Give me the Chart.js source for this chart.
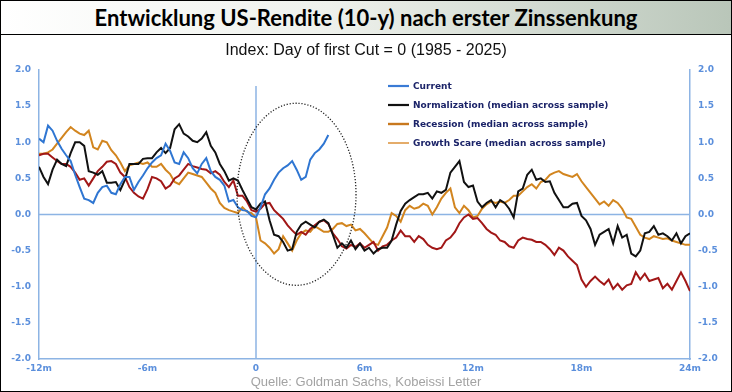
<!DOCTYPE html>
<html>
<head>
<meta charset="utf-8">
<script src="https://cdn.jsdelivr.net/npm/chart.js@4.4.1/dist/chart.umd.min.js"></script>
<style>
  html, body { margin: 0; padding: 0; background: #fff; }
  #frame {
    position: relative; width: 732px; height: 392px;
    box-sizing: border-box; border: 1px solid #000; overflow: hidden;
  }
  #banner {
    position: absolute; left: 0; top: 0; width: 730px; height: 33px;
    border-bottom: 1px solid #000;
    background: linear-gradient(to right, #ffffff 0%, #eef1ec 45%, #b9c6b9 100%);
    font-family: Lato, sans-serif; font-weight: bold; font-size: 22px;
    line-height: 33px; text-align: center; color: #000;
  }
  #sub {
    position: absolute; left: 0; width: 730px; top: 40px;
    font-family: "Liberation Sans Narrow", "Arial Narrow", "Liberation Sans", sans-serif;
    font-size: 16px; line-height: 18px; text-align: center; color: #111;
  }
  #src {
    position: absolute; left: 0; width: 730px; top: 373px;
    font-family: "Liberation Sans", Arial, sans-serif;
    font-size: 13px; line-height: 16px; text-align: center; color: #a3a3a3;
  }
  #wrap { position: absolute; left: 0; top: 34px; width: 730px; height: 356px; }
</style>
</head>
<body>
<div id="frame">
  <div id="banner">Entwicklung US-Rendite (10-y) nach erster Zinssenkung</div>
  <div id="wrap"><canvas id="chart"></canvas></div>
  <div id="sub">Index: Day of first Cut = 0 (1985 - 2025)</div>
  <div id="src">Quelle: Goldman Sachs, Kobeissi Letter</div>
</div>
<script>
// months relative to first cut, one value every quarter month starting at -12m
const startMonth = -12;
const stepMonth = 0.25;
const xTicks = [-12, -6, 0, 6, 12, 18, 24];
const yTicks = [2.0, 1.5, 1.0, 0.5, 0.0, -0.5, -1.0, -1.5, -2.0];

// rows = 3 months each
const current = [
  1.05, 1.00, 1.23, 1.16, 1.02, 0.91, 0.82, 0.74, 0.55, 0.38, 0.22, 0.20, 0.16,
  0.30, 0.38, 0.40, 0.30, 0.28, 0.42, 0.52, 0.52, 0.34, 0.45, 0.54, 0.64,
  0.72, 0.78, 0.82, 0.98, 0.88, 0.72, 0.70, 0.86, 0.78, 0.64, 0.57, 0.70,
  0.78, 0.60, 0.52, 0.48, 0.40, 0.18, 0.20, 0.10, 0.06, 0.05, -0.02, -0.04,
  0.10, 0.28, 0.36, 0.48, 0.58, 0.64, 0.68, 0.74, 0.62, 0.48, 0.52, 0.76,
  0.85, 0.90, 0.98, 1.10
];

const normalization = [
  0.66, 0.52, 0.42, 0.62, 0.76, 0.70, 0.67, 0.85, 1.00, 1.00, 0.95, 0.60, 0.58,
  0.55, 0.60, 0.44, 0.44, 0.45, 0.34, 0.48, 0.70, 0.70, 0.70, 0.77, 0.78,
  0.78, 0.86, 0.92, 0.85, 0.92, 1.18, 1.25, 1.12, 1.08, 1.02, 1.00, 1.05,
  1.14, 0.95, 0.86, 0.70, 0.60, 0.47, 0.50, 0.47, 0.34, 0.22, 0.10, 0.07,
  0.15, 0.18, -0.08, -0.28, -0.30, -0.38, -0.50, -0.48, -0.24, -0.14, -0.10, -0.14,
  -0.18, -0.10, -0.07, -0.12, -0.28, -0.46, -0.40, -0.46, -0.36, -0.48, -0.40, -0.50,
  -0.46, -0.54, -0.48, -0.46, -0.46, -0.36, -0.14, 0.05, 0.15, 0.20, 0.24, 0.28,
  0.28, 0.30, 0.22, 0.32, 0.30, 0.34, 0.58, 0.66, 0.74, 0.45, 0.38, 0.40,
  0.18, 0.10, 0.16, 0.20, 0.10, 0.20, 0.16, 0.08, -0.04, 0.32, 0.36, 0.55,
  0.62, 0.48, 0.50, 0.45, 0.46, 0.30, 0.20, 0.10, 0.10, 0.15, 0.16, -0.02,
  -0.08, -0.20, -0.42, -0.28, -0.24, -0.20, -0.40, -0.16, -0.32, -0.28, -0.54, -0.58,
  -0.50, -0.26, -0.24, -0.16, -0.28, -0.26, -0.30, -0.36, -0.26, -0.40, -0.30, -0.26
];

const recession = [
  0.82, 0.84, 0.84, 0.79, 0.74, 0.70, 0.70, 0.66, 0.58, 0.48, 0.50, 0.40, 0.50,
  0.60, 0.66, 0.73, 0.74, 0.70, 0.58, 0.52, 0.38, 0.30, 0.25, 0.22, 0.35,
  0.52, 0.50, 0.46, 0.36, 0.40, 0.50, 0.54, 0.62, 0.70, 0.67, 0.65, 0.63,
  0.62, 0.57, 0.60, 0.55, 0.45, 0.38, 0.47, 0.26, 0.26, 0.18, 0.06, 0.04,
  0.08, 0.15, 0.16, 0.06, 0.00, -0.06, -0.15, -0.22, -0.28, -0.24, -0.28, -0.20,
  -0.15, -0.10, -0.08, -0.13, -0.26, -0.34, -0.44, -0.47, -0.42, -0.45, -0.40, -0.46,
  -0.42, -0.38, -0.50, -0.44, -0.42, -0.36, -0.32, -0.22, -0.30, -0.30, -0.38, -0.30,
  -0.34, -0.42, -0.46, -0.48, -0.46, -0.36, -0.32, -0.24, -0.12, -0.04, 0.00, -0.06,
  -0.05, -0.12, -0.20, -0.25, -0.28, -0.36, -0.38, -0.44, -0.46, -0.36, -0.32, -0.34,
  -0.35, -0.38, -0.38, -0.42, -0.48, -0.56, -0.46, -0.50, -0.58, -0.64, -0.70, -0.90,
  -1.00, -0.92, -0.86, -0.92, -0.97, -0.90, -1.03, -0.96, -1.04, -0.98, -0.96, -0.80,
  -0.90, -0.82, -0.92, -0.90, -0.88, -1.02, -0.96, -1.04, -0.92, -0.80, -0.92, -1.06
];

const growthScare = [
  0.84, 0.84, 0.86, 0.90, 0.98, 1.06, 1.14, 1.21, 1.16, 1.12, 1.10, 1.16, 0.93,
  0.90, 1.02, 1.00, 0.89, 0.82, 0.72, 0.60, 0.68, 0.70, 0.72, 0.70, 0.72,
  0.66, 0.66, 0.70, 0.62, 0.56, 0.45, 0.42, 0.50, 0.58, 0.56, 0.54, 0.52,
  0.44, 0.36, 0.30, 0.16, 0.09, 0.06, 0.04, 0.02, 0.10, 0.04, 0.02, -0.04,
  -0.36, -0.40, -0.46, -0.54, -0.48, -0.30, -0.40, -0.50, -0.36, -0.26, -0.22, -0.24,
  -0.16, -0.20, -0.24, -0.24, -0.20, -0.13, -0.12, -0.16, -0.14, -0.22, -0.20, -0.26,
  -0.33, -0.40, -0.42, -0.30, -0.18, 0.02, -0.02, -0.10, 0.06, 0.12, 0.08, 0.10,
  0.15, 0.12, 0.00, 0.10, 0.22, 0.30, 0.36, 0.10, 0.02, 0.12, 0.06, -0.04,
  -0.02, 0.08, 0.14, 0.18, 0.16, 0.18, 0.16, 0.20, 0.26, 0.26, 0.32, 0.38,
  0.42, 0.36, 0.45, 0.48, 0.55, 0.58, 0.60, 0.56, 0.54, 0.52, 0.56, 0.46,
  0.38, 0.30, 0.22, 0.14, 0.18, 0.12, 0.20, 0.16, 0.08, -0.04, -0.06, -0.17,
  -0.28, -0.32, -0.34, -0.30, -0.32, -0.34, -0.33, -0.36, -0.38, -0.40, -0.42, -0.42
];

const axisBlue = '#8db4e4';
const tickBlue = '#5b8fdc';

function toPoints(values) {
  return values.map((v, i) => ({ x: startMonth + i * stepMonth, y: v }));
}

// zero cross lines, the dotted ellipse and the legend box
const overlay = {
  id: 'overlay',
  beforeDatasetsDraw(chart) {
    const { ctx, chartArea, scales } = chart;
    const x0 = scales.x.getPixelForValue(0);
    const y0 = scales.y.getPixelForValue(0);
    ctx.save();
    ctx.strokeStyle = axisBlue;
    ctx.lineWidth = 1.5;
    ctx.beginPath();
    ctx.moveTo(chartArea.left, y0);
    ctx.lineTo(chartArea.right, y0);
    ctx.moveTo(x0, scales.y.getPixelForValue(1.78));
    ctx.lineTo(x0, chartArea.bottom);
    ctx.stroke();
    ctx.restore();
  },
  afterDatasetsDraw(chart) {
    const { ctx, chartArea, scales } = chart;
    // ellipse around the first months after the cut
    const cx = scales.x.getPixelForValue(2.24);
    const cy = scales.y.getPixelForValue(0.28);
    const rx = scales.x.getPixelForValue(2.24 + 3.29) - cx;
    const ry = cy - scales.y.getPixelForValue(0.28 + 1.26);
    ctx.save();
    ctx.strokeStyle = '#222';
    ctx.lineWidth = 1.3;
    ctx.setLineDash([1.2, 1.8]);
    ctx.beginPath();
    ctx.ellipse(cx, cy, rx, ry, 0, 0, Math.PI * 2);
    ctx.stroke();
    ctx.setLineDash([]);

    // legend
    const swatch = ['#3a7bd5', '#111111', '#c8781e', '#d8892a'];
    const swWidth = [2.2, 2.2, 2.4, 1.4];
    let lx = chartArea.left + 349;
    let ly = chartArea.top + 16;
    ctx.font = 'bold 9px "DejaVu Sans"';
    ctx.textBaseline = 'middle';
    chart.data.datasets.forEach((ds, i) => {
      ctx.strokeStyle = swatch[i];
      ctx.lineWidth = swWidth[i];
      ctx.beginPath();
      ctx.moveTo(lx, ly + i * 19);
      ctx.lineTo(lx + 21, ly + i * 19);
      ctx.stroke();
      ctx.fillStyle = '#1b2368';
      ctx.fillText(ds.label, lx + 25, ly + i * 19 + 0.5);
    });
    ctx.restore();
  }
};

const tickFont = { family: '"DejaVu Sans"', size: 9, weight: 'bold' };

const ctx = document.getElementById('chart');
new Chart(ctx, {
  type: 'line',
  data: {
    datasets: [
      { label: 'Current', data: toPoints(current), borderColor: '#2f76d2', borderWidth: 2 },
      { label: 'Normalization (median across sample)', data: toPoints(normalization), borderColor: '#111111', borderWidth: 2 },
      { label: 'Recession (median across sample)', data: toPoints(recession), borderColor: '#a11717', borderWidth: 2 },
      { label: 'Growth Scare (median across sample)', data: toPoints(growthScare), borderColor: '#d2851f', borderWidth: 2 }
    ]
  },
  options: {
    responsive: true,
    maintainAspectRatio: false,
    animation: false,
    layout: { padding: { top: 35, bottom: 0, left: 0, right: 0 } },
    elements: { point: { radius: 0 }, line: { tension: 0 } },
    plugins: {
      legend: { display: false },
      tooltip: { enabled: false }
    },
    scales: {
      x: {
        type: 'linear',
        min: -12, max: 24,
        afterBuildTicks: s => { s.ticks = xTicks.map(v => ({ value: v })); },
        afterFit: s => { s.height = 32; },
        grid: { display: false, drawTicks: false },
        border: { display: true, color: axisBlue, width: 1.5 },
        ticks: {
          color: tickBlue, font: tickFont, padding: 4, maxRotation: 0,
          callback: v => (v === 0 ? '0' : v + 'm')
        }
      },
      y: {
        position: 'left',
        min: -2, max: 2,
        afterBuildTicks: s => { s.ticks = yTicks.map(v => ({ value: v })); },
        afterFit: s => { s.width = 38; },
        grid: { display: false, drawTicks: false },
        border: { display: true, color: axisBlue, width: 1.5 },
        ticks: { color: tickBlue, font: tickFont, padding: 8, callback: v => v.toFixed(1) }
      },
      y2: {
        position: 'right',
        min: -2, max: 2,
        afterBuildTicks: s => { s.ticks = yTicks.map(v => ({ value: v })); },
        afterFit: s => { s.width = 41; },
        grid: { display: false, drawTicks: false },
        border: { display: true, color: axisBlue, width: 1.5 },
        ticks: { color: tickBlue, font: tickFont, padding: 8, callback: v => v.toFixed(1) }
      }
    }
  },
  plugins: [overlay]
});
</script>
</body>
</html>
